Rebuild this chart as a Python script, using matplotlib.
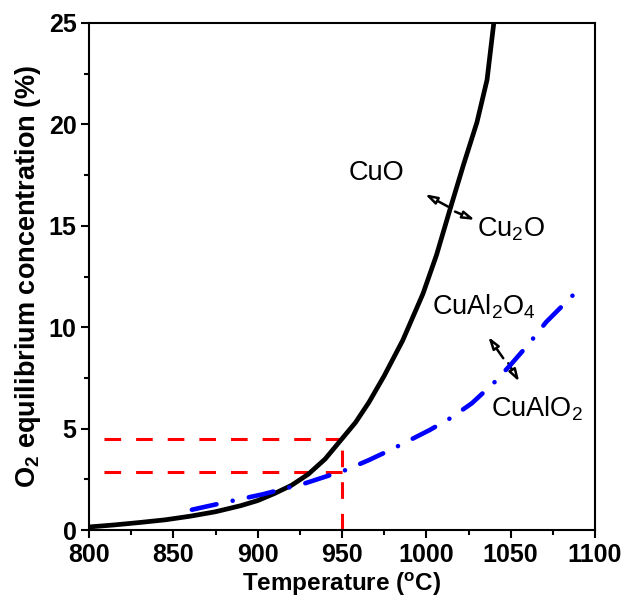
import matplotlib
matplotlib.use("Agg")
import matplotlib.pyplot as plt

plt.rcParams['font.family'] = ['Liberation Sans', 'DejaVu Sans']
plt.rcParams['mathtext.fontset'] = 'custom'
plt.rcParams['mathtext.rm'] = 'Liberation Sans'
plt.rcParams['mathtext.bf'] = 'Liberation Sans:bold'
plt.rcParams['mathtext.it'] = 'Liberation Sans:italic'

# Data
cuo_T = [800, 815, 830, 845, 860, 875, 890, 900, 910, 920, 930, 940, 950, 958, 966,
         975, 986, 998, 1006, 1014, 1022, 1030, 1036, 1040]
cuo_O2 = [0.15, 0.25, 0.37, 0.5, 0.68, 0.9, 1.2, 1.45, 1.8, 2.2, 2.75, 3.5, 4.5, 5.3, 6.3,
          7.6, 9.35, 11.65, 13.55, 15.8, 18.0, 20.1, 22.2, 25.0]
cual_T = [861, 880, 903, 928, 952, 966, 980, 1002, 1015, 1027, 1040, 1050, 1061, 1071, 1089]
cual_O2 = [1.0, 1.35, 1.76, 2.3, 2.95, 3.45, 4.0, 4.93, 5.55, 6.25, 7.25, 8.15, 9.2, 10.25, 11.75]
ref_T = 950
ref_O2 = [4.5, 2.85]

xticks = [800, 850, 900, 950, 1000, 1050, 1100]
yticks = [0, 5, 10, 15, 20, 25]

fig = plt.figure(figsize=(6.3, 6.12), dpi=100)
ax = fig.add_axes([89/630, 1 - 530/612, (595-89)/630, (530-23)/612])

# red guide lines
red_ls = (0, (5.45, 4.9))
for v in ref_O2:
    ax.plot([ref_T, 800], [v, v], color='#ff0000', lw=2.2, linestyle=red_ls, zorder=2)
ax.plot([ref_T, ref_T], [0, ref_O2[0]], color='#ff0000', lw=2.2, linestyle=red_ls, zorder=2)

ax.plot(cuo_T, cuo_O2, color='black', lw=3.4, zorder=3, solid_capstyle='round',
        solid_joinstyle='round')
ax.plot(cual_T, cual_O2, color='#0000ff', lw=3.3, linestyle=(0, (5.5, 3.6, 0.01, 3.6)),
        dash_capstyle='round', dash_joinstyle='round', zorder=4)

ax.set_xlim(800, 1100)
ax.set_ylim(0, 25)
ax.set_xticks(xticks)
ax.set_yticks(yticks)
ax.set_xticks([825, 875, 925, 975, 1025, 1075], minor=True)
ax.set_yticks([2.5, 7.5, 12.5, 17.5, 22.5], minor=True)
ax.tick_params(which='major', direction='out', length=6, width=1.5, labelsize=18, pad=3)
ax.tick_params(which='minor', direction='out', length=3.5, width=1.5)
for lab in ax.get_xticklabels() + ax.get_yticklabels():
    lab.set_fontweight('bold')
for s in ax.spines.values():
    s.set_linewidth(1.5)

ax.set_xlabel(r'Temperature ($^{\mathbf{o}}$C)', fontsize=17.5, fontweight='bold', labelpad=3)
ax.set_ylabel(r'O$_{\mathbf{2}}$ equilibrium concentration (%)', fontsize=19.5,
              fontweight='bold', labelpad=4)

# annotations
tfs = 19.5
ax.text(970.6, 17.6, 'CuO', fontsize=tfs, ha='center', va='center')
ax.text(1050, 14.85, r'Cu$_{\rm 2}$O', fontsize=tfs, ha='center', va='center')
ax.text(1034, 11.0, r'CuAl$_{\rm 2}$O$_{\rm 4}$', fontsize=tfs, ha='center', va='center')
ax.text(1065.5, 6.0, r'CuAlO$_{\rm 2}$', fontsize=tfs, ha='center', va='center')

ap = dict(arrowstyle='-|>,head_length=0.7,head_width=0.22', fc='white', ec='black', lw=1.8,
          shrinkA=0, shrinkB=0)
ax.annotate('', xy=(999.2, 16.56), xytext=(1013, 15.94), arrowprops=ap)
ax.annotate('', xy=(1028.8, 15.29), xytext=(1017, 15.7), arrowprops=ap)
ax.annotate('', xy=(1036.7, 9.53), xytext=(1045.6, 8.47), arrowprops=ap)
ax.annotate('', xy=(1055.1, 7.31), xytext=(1048.6, 8.22), arrowprops=ap)

fig.savefig('out.png', dpi=100)
